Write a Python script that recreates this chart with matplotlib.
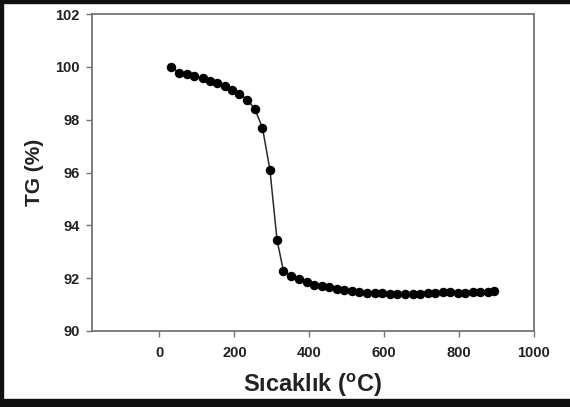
import matplotlib
matplotlib.use("Agg")
import matplotlib.pyplot as plt
from matplotlib.patches import Rectangle

temperature = [30, 53, 73, 93, 115, 134, 154, 174, 194, 213, 234, 254, 275, 295,
               314, 331,
               352, 373, 394, 413, 434, 454, 474, 494, 515, 534, 555, 575, 595, 616,
               635, 656, 676, 696, 716, 736, 756, 776, 796, 815, 836, 856, 878, 893]
tg = [100.0, 99.77, 99.71, 99.65, 99.56, 99.47, 99.37, 99.27, 99.14, 98.99, 98.76, 98.42, 97.70, 96.10,
      93.44, 92.28,
      92.09, 91.96, 91.86, 91.76, 91.70, 91.65, 91.59, 91.56, 91.52, 91.48, 91.45, 91.43, 91.42, 91.40,
      91.39, 91.39, 91.40, 91.41, 91.43, 91.45, 91.47, 91.46, 91.44, 91.44, 91.46, 91.48, 91.49, 91.50]
xticks = [0, 200, 400, 600, 800, 1000]
yticks = [90, 92, 94, 96, 98, 100, 102]

plt.rcParams['font.family'] = ['Liberation Sans', 'DejaVu Sans']
fig = plt.figure(figsize=(5.7, 4.07), dpi=100)
ax = fig.add_axes([92/570, 1 - 331/407, (534 - 92)/570, (331 - 14)/407])

ax.plot(temperature, tg, color='#2a2a2a', lw=1.1, marker='o', ms=5.8,
        mfc='black', mec='black', zorder=3)
ax.set_xlim(-180, 1000)
ax.set_ylim(90, 102)
ax.set_xticks(xticks)
ax.set_yticks(yticks)
spine_c = '#7a7272'
for s in ax.spines.values():
    s.set_color(spine_c)
    s.set_linewidth(1.3)
ax.tick_params(direction='out', length=4, width=1, color=spine_c,
               labelsize=10.5, labelcolor='#222222')
for lab in ax.get_xticklabels() + ax.get_yticklabels():
    lab.set_fontweight('bold')
ax.tick_params(axis='x', pad=7)
ax.tick_params(axis='y', pad=5)
ax.set_xlabel('Sıcaklık ($\\mathregular{^oC}$)', fontsize=17, fontweight='bold',
              color='#222222', labelpad=8)
ax.set_ylabel('TG (%)', fontsize=15, fontweight='bold', color='#222222', labelpad=8)

# figure border (left, top, bottom)
fig.patches.append(Rectangle((0, 0), 3/570, 1, transform=fig.transFigure,
                             color='#111111', zorder=10))
fig.patches.append(Rectangle((0, 1 - 3/407), 1, 3/407, transform=fig.transFigure,
                             color='#111111', zorder=10))
fig.patches.append(Rectangle((0, 0), 1, 8/407, transform=fig.transFigure,
                             color='#111111', zorder=10))

fig.savefig('out.png', dpi=100)
